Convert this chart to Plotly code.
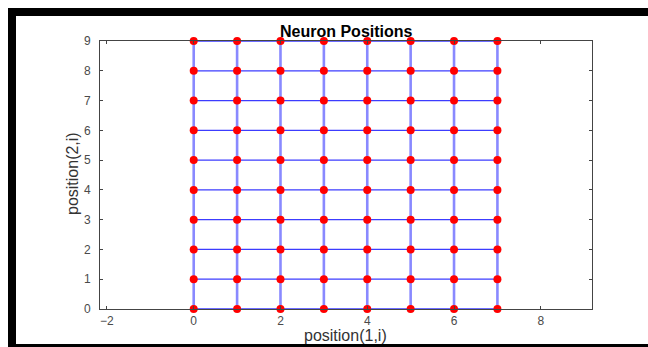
import plotly.graph_objects as go

# Data: neuron grid positions (gridtop 8 x 10)
x_positions = [0, 1, 2, 3, 4, 5, 6, 7]
y_positions = [0, 1, 2, 3, 4, 5, 6, 7, 8, 9]
x_ticks = [-2, 0, 2, 4, 6, 8]
y_ticks = [0, 1, 2, 3, 4, 5, 6, 7, 8, 9]

fig = go.Figure()

# vertical connections (columns)
for xv in x_positions:
    fig.add_trace(go.Scatter(x=[xv] * len(y_positions), y=y_positions, mode="lines",
                             line=dict(color="rgba(40,40,255,0.55)", width=2.6),
                             hoverinfo="skip", showlegend=False))
# horizontal connections (rows)
for yv in y_positions:
    fig.add_trace(go.Scatter(x=x_positions, y=[yv] * len(x_positions), mode="lines",
                             line=dict(color="#3c3cff", width=1.3),
                             hoverinfo="skip", showlegend=False))

# neurons
mx = [xv for yv in y_positions for xv in x_positions]
my = [yv for yv in y_positions for xv in x_positions]
fig.add_trace(go.Scatter(x=mx, y=my, mode="markers",
                         marker=dict(color="#ff0000", size=8, line=dict(width=0)),
                         showlegend=False, cliponaxis=False))

axis_common = dict(showgrid=False, zeroline=False, showline=True, linecolor="#444444",
                   linewidth=1, mirror="ticks", ticks="inside", ticklen=3, tickcolor="#444444",
                   tickfont=dict(family="Liberation Sans, Arial", size=12, color="#4a4a4a"))

fig.update_xaxes(range=[-2.16, 9.18], tickvals=x_ticks, ticklabelstandoff=1, **axis_common)
fig.update_yaxes(range=[0, 9], tickvals=y_ticks, ticklabelstandoff=6, **axis_common)

# page-pixel geometry (body margin removed below, figure fills the window)
W, H = 648, 347
L, R, T, B = 100, 56, 41, 38
PW, PH = W - L - R, H - T - B

def fx(px):
    return (px - L) / PW

def fy(py):
    return (H - B - py) / PH

def px_rect(x0, y0, x1, y1):
    return dict(type="rect", xref="paper", yref="paper",
                x0=fx(x0), x1=fx(x1), y0=fy(y1), y1=fy(y0),
                fillcolor="black", line=dict(width=0), layer="above")

shapes = [
    px_rect(8, 8, W, 16),
    px_rect(8, 8, 16, H),
    px_rect(8, 344, W, H),
]

annotations = [
    dict(text="<b>Neuron Positions</b>", xref="paper", yref="paper",
         x=fx(346), y=fy(31.5), showarrow=False,
         xanchor="center", yanchor="middle",
         font=dict(family="Liberation Sans, Arial", size=16, color="black")),
    dict(text="position(1,i)", xref="paper", yref="paper",
         x=fx(345), y=fy(335), showarrow=False,
         xanchor="center", yanchor="middle",
         font=dict(family="Liberation Sans, Arial", size=16, color="#333333")),
    dict(text="position(2,i)", xref="paper", yref="paper", textangle=-90,
         x=fx(72), y=fy(174), showarrow=False,
         xanchor="center", yanchor="middle",
         font=dict(family="Liberation Sans, Arial", size=16, color="#333333")),
]

fig.update_layout(width=W, height=H, margin=dict(l=L, r=R, t=T, b=B, autoexpand=False),
                  paper_bgcolor="white", plot_bgcolor="white",
                  shapes=shapes, annotations=annotations, showlegend=False)

fig.write_html("out.html", config={"displayModeBar": False},
               post_script="document.body.style.margin='0px';document.body.style.overflow='hidden';")
